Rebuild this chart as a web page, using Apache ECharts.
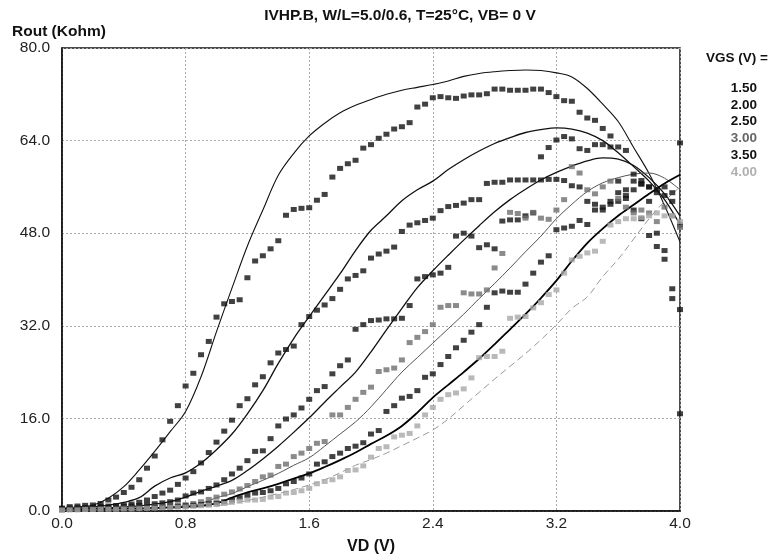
<!DOCTYPE html>
<html>
<head>
<meta charset="utf-8">
<title>IVHP.B Rout vs VD</title>
<script src="https://cdn.jsdelivr.net/npm/echarts@6/dist/echarts.min.js"></script>
<style>
  html, body { margin: 0; padding: 0; background: #fff; }
  #chart { width: 770px; height: 556px; }
</style>
</head>
<body>
<div id="chart"></div>
<script>
// gate voltages (legend)
var vgs = ['1.50', '2.00', '2.50', '3.00', '3.50', '4.00'];

// x grid of the model curves (V)
var vdModel = [0.0, 0.1, 0.2, 0.3, 0.4, 0.5, 0.6, 0.7, 0.8, 0.9,
  1.0, 1.1, 1.2, 1.3, 1.4, 1.5, 1.6, 1.7, 1.8, 1.9,
  2.0, 2.1, 2.2, 2.3, 2.4, 2.5, 2.6, 2.7, 2.8, 2.9,
  3.0, 3.1, 3.2, 3.3, 3.4, 3.5, 3.6, 3.7, 3.8, 3.9, 4.0];

// model Rout (Kohm)
var model15 = [0.5, 0.7, 1.0, 2.2, 4.2, 7.1, 10.3, 13.7, 17.2, 23.2,
  31.0, 38.5, 45.8, 52.0, 58.0, 61.8, 64.8, 67.0, 68.8, 70.1,
  71.1, 72.0, 72.7, 73.2, 73.7, 74.3, 75.1, 75.6, 75.9, 76.1,
  76.2, 76.1, 75.7, 75.0, 73.0, 70.3, 67.3, 62.8, 58.3, 52.8, 46.5];
var model20 = [0.4, 0.5, 0.7, 1.0, 1.5, 2.3, 4.3, 5.7, 6.6, 8.3,
  10.6, 13.3, 16.8, 20.8, 25.5, 29.8, 33.6, 37.3, 41.0, 45.0,
  48.5, 51.0, 53.6, 55.5, 57.0, 59.0, 60.7, 62.2, 63.5, 64.5,
  65.4, 65.9, 66.2, 66.0, 65.3, 64.0, 61.9, 59.5, 57.0, 53.8, 49.5];
var model25 = [0.3, 0.35, 0.45, 0.55, 0.7, 0.9, 1.2, 1.6, 2.4, 3.4,
  4.3, 5.3, 7.0, 9.0, 11.2, 13.6, 16.1, 18.8, 21.4, 24.0,
  27.5, 31.3, 35.0, 38.6, 41.5, 44.2, 46.8, 49.3, 51.7, 53.8,
  55.6, 57.2, 58.5, 59.6, 60.5, 61.0, 60.8, 59.7, 57.6, 54.8, 51.0];
var model30 = [0.25, 0.3, 0.35, 0.4, 0.45, 0.5, 0.6, 0.7, 0.9, 1.3,
  2.3, 3.0, 4.2, 5.3, 6.5, 7.9, 9.2, 11.2, 13.3, 15.4,
  18.0, 21.0, 24.0, 26.5, 29.0, 31.5, 34.0, 36.7, 39.3, 42.0,
  44.8, 47.5, 50.5, 53.0, 55.2, 56.7, 57.6, 58.2, 58.4, 57.5, 55.5];
var model35 = [0.2, 0.25, 0.3, 0.35, 0.4, 0.4, 0.5, 0.6, 0.7, 0.9,
  1.3, 2.3, 3.2, 3.9, 4.7, 5.6, 6.5, 7.6, 8.8, 10.1,
  11.6, 13.0, 14.7, 17.0, 19.6, 21.8, 24.0, 26.3, 28.8, 31.4,
  34.0, 36.8, 39.8, 43.2, 46.3, 48.8, 51.0, 52.9, 54.8, 56.6, 58.1];
var model40 = [0.15, 0.15, 0.2, 0.2, 0.25, 0.3, 0.35, 0.45, 0.55, 0.7,
  0.9, 1.3, 1.8, 2.4, 3.0, 3.7, 4.5, 5.4, 6.6, 7.9,
  8.9, 10.0, 11.3, 12.6, 14.0, 15.9, 18.2, 20.5, 22.8, 25.0,
  27.2, 29.6, 32.2, 35.0, 37.0, 40.5, 43.5, 47.0, 50.5, 53.5, 56.0];

// x grid of the measured points (V)
var vdMeas = [0.00, 0.05, 0.10, 0.15, 0.20, 0.25, 0.30, 0.35, 0.40, 0.45,
  0.50, 0.55, 0.60, 0.65, 0.70, 0.75, 0.80, 0.85, 0.90, 0.95,
  1.00, 1.05, 1.10, 1.15, 1.20, 1.25, 1.30, 1.35, 1.40, 1.45,
  1.50, 1.55, 1.60, 1.65, 1.70, 1.75, 1.80, 1.85, 1.90, 1.95,
  2.00, 2.05, 2.10, 2.15, 2.20, 2.25, 2.30, 2.35, 2.40, 2.45,
  2.50, 2.55, 2.60, 2.65, 2.70, 2.75, 2.80, 2.85, 2.90, 2.95,
  3.00, 3.05, 3.10, 3.15, 3.20, 3.25, 3.30, 3.35, 3.40, 3.45,
  3.50, 3.55, 3.60, 3.65, 3.70, 3.75, 3.80, 3.85, 3.90, 3.95, 4.00];

// measured Rout (Kohm)
var meas15 = [0.5, 0.75, 0.86, 0.98, 1.04, 1.3, 1.9, 2.4, 3.2, 4.1,
  5.4, 7.4, 9.5, 12.3, 15.5, 18.2, 21.6, 23.8, 27.0, 29.3,
  33.5, 35.8, 36.2, 36.5, 40.3, 43.2, 44.1, 45.3, 46.7, 51.1,
  52.1, 52.3, 52.4, 53.7, 54.7, 57.7, 59.2, 60.0, 60.6, 62.7,
  63.3, 64.4, 65.1, 66.0, 66.4, 67.1, 69.8, 70.3, 71.4, 71.6,
  71.4, 71.3, 71.7, 71.9, 71.9, 72.1, 72.9, 72.9, 72.7, 72.7,
  72.7, 72.9, 72.9, 72.3, 71.6, 70.9, 70.8, 68.9, 67.9, 67.5,
  66.1, 64.8, 62.9, 62.3, 58.2, 57.1, 53.5, 48.0, 45.0, 38.4, 16.8];
var meas20 = [0.4, 0.5, 0.55, 0.6, 0.65, 0.75, 0.85, 0.95, 1.05, 1.2,
  1.5, 1.9, 2.5, 3.1, 3.6, 4.6, 5.7, 6.8, 8.3, 10.1,
  11.9, 13.8, 15.7, 18.2, 19.4, 21.8, 23.2, 25.6, 27.3, 27.9,
  28.5, 32.2, 33.6, 34.7, 35.6, 36.7, 38.3, 40.1, 40.7, 41.5,
  43.7, 44.4, 44.9, 45.6, 48.3, 49.4, 49.8, 50.2, 50.6, 51.9,
  52.6, 52.8, 53.2, 53.8, 53.8, 56.6, 56.8, 56.8, 57.2, 57.2,
  57.2, 57.2, 61.2, 62.8, 64.1, 64.7, 64.3, 62.6, 62.3, 63.3,
  63.3, 62.9, 57.0, 55.5, 52.0, 50.5, 47.6, 45.7, 43.5, 36.7, 34.8];
var meas25 = [0.3, 0.35, 0.4, 0.45, 0.5, 0.55, 0.6, 0.7, 0.75, 0.85,
  0.95, 1.1, 1.25, 1.4, 1.6, 1.9, 2.6, 3.1, 3.3, 3.9,
  4.5, 5.4, 6.4, 7.4, 8.7, 10.3, 10.4, 12.5, 14.7, 15.9,
  16.6, 17.8, 19.3, 20.8, 21.5, 23.7, 25.1, 26.1, 31.4, 32.2,
  32.9, 33.0, 33.2, 33.2, 33.3, 35.5, 40.1, 40.5, 40.8, 41.1,
  42.1, 47.5, 48.0, 47.5, 45.5, 46.0, 45.3, 50.1, 50.3, 50.3,
  51.0, 51.5, 57.2, 57.3, 57.3, 57.1, 56.2, 56.0, 53.5, 53.0,
  52.0, 53.0, 53.5, 54.0, 55.5, 56.5, 56.0, 55.0, 54.5, 53.5, 49.4];
var meas30 = [0.25, 0.3, 0.3, 0.35, 0.35, 0.4, 0.4, 0.45, 0.5, 0.5,
  0.55, 0.6, 0.7, 0.75, 0.85, 0.95, 1.1, 1.3, 1.6, 2.0,
  2.4, 2.9, 3.3, 3.8, 4.4, 5.1, 5.9, 6.2, 7.7, 8.1,
  9.4, 10.0, 10.8, 11.7, 12.0, 16.6, 16.6, 17.9, 19.3, 20.5,
  21.4, 24.1, 24.4, 24.7, 26.1, 29.1, 30.0, 31.0, 32.2, 35.2,
  35.5, 35.5, 37.7, 37.5, 37.5, 38.2, 42.0, 44.5, 51.6, 51.4,
  50.6, 51.6, 50.6, 50.4, 52.0, 53.8, 59.5, 58.4, 55.5, 54.8,
  56.0, 57.0, 54.0, 52.5, 51.5, 52.0, 51.5, 50.0, 52.5, 51.0, 49.0];
var meas35 = [0.2, 0.25, 0.25, 0.3, 0.3, 0.35, 0.35, 0.4, 0.4, 0.45,
  0.5, 0.55, 0.6, 0.65, 0.7, 0.8, 0.9, 1.0, 1.1, 1.25,
  1.4, 1.6, 1.9, 2.3, 2.7, 3.1, 3.2, 3.5, 3.9, 4.7,
  5.1, 5.7, 6.4, 8.1, 8.5, 9.4, 10.0, 10.8, 11.2, 11.8,
  13.3, 13.9, 17.2, 18.2, 19.5, 19.8, 20.8, 23.1, 23.7, 25.3,
  26.7, 28.2, 29.5, 30.9, 32.2, 35.2, 37.7, 38.0, 37.8, 37.8,
  39.2, 41.1, 43.0, 44.1, 48.6, 48.9, 49.2, 50.2, 49.5, 52.0,
  52.5, 53.5, 55.0, 54.5, 57.0, 56.5, 56.0, 55.5, 56.0, 55.0, 63.6];
var meas40 = [0.15, 0.2, 0.2, 0.25, 0.25, 0.3, 0.3, 0.3, 0.35, 0.35,
  0.4, 0.45, 0.5, 0.55, 0.6, 0.65, 0.7, 0.8, 0.9, 1.0,
  1.1, 1.3, 1.5, 1.7, 1.9, 1.9, 2.0, 2.4, 2.5, 3.1,
  3.2, 3.5, 3.9, 4.7, 5.1, 5.4, 5.9, 7.0, 7.1, 7.8,
  9.3, 10.8, 11.1, 12.8, 13.1, 13.4, 14.7, 16.6, 17.9, 19.3,
  20.1, 20.4, 21.1, 23.0, 26.5, 26.7, 26.7, 27.6, 33.3, 33.5,
  33.6, 35.1, 36.0, 37.4, 38.2, 41.1, 43.4, 44.0, 44.6, 44.9,
  46.6, 49.4, 50.0, 50.5, 50.5, 50.7, 51.0, 51.5, 51.0, 51.0, 50.0];

var xTicks = ['0.0', '0.8', '1.6', '2.4', '3.2', '4.0'];
var yTicks = ['0.0', '16.0', '32.0', '48.0', '64.0', '80.0'];

var models = [model15, model20, model25, model30, model35, model40];
var measured = [meas15, meas20, meas25, meas30, meas35, meas40];

var FONT = '"Liberation Sans", Arial, Helvetica, sans-serif';
var lineStyles = [
  { color: '#111', width: 1.1, type: 'solid' },
  { color: '#111', width: 1.3, type: 'solid' },
  { color: '#111', width: 1.3, type: 'solid' },
  { color: '#555', width: 1.0, type: 'solid' },
  { color: '#000', width: 1.8, type: 'solid' },
  { color: '#9a9a9a', width: 1.0, type: [7, 4] }
];
var markColors = ['#111', '#111', '#111', '#6e6e6e', '#111', '#a8a8a8'];
var legendColors = ['#111', '#111', '#111', '#666', '#111', '#b0b0b0'];

function pairs(xs, ys) {
  return ys.map(function (y, i) { return [xs[i], y]; });
}

var series = [];
vgs.forEach(function (name, i) {
  series.push({
    name: name,
    type: 'line',
    data: pairs(vdModel, models[i]),
    showSymbol: false,
    smooth: 0.35,
    lineStyle: lineStyles[i],
    itemStyle: { color: lineStyles[i].color },
    z: 2
  });
  series.push({
    name: name,
    type: 'scatter',
    data: pairs(vdMeas, measured[i]),
    symbol: 'rect',
    symbolSize: [6, 5],
    itemStyle: { color: markColors[i] },
    z: 3
  });
});

var chart = echarts.init(document.getElementById('chart'));
chart.setOption({
  backgroundColor: '#fff',
  animation: false,
  textStyle: { fontFamily: FONT },
  title: {
    text: 'IVHP.B, W/L=5.0/0.6, T=25°C, VB= 0 V',
    left: 395,
    top: 3,
    textAlign: 'center',
    textStyle: { fontSize: 15.5, fontWeight: 'bold', color: '#111', fontFamily: FONT }
  },
  legend: {
    data: vgs.map(function (v, i) {
      return { name: v, icon: 'none', textStyle: { color: legendColors[i] } };
    }),
    orient: 'vertical',
    right: 3,
    top: 76,
    itemWidth: 0,
    itemHeight: 10,
    itemGap: 2.8,
    align: 'right',
    textStyle: { fontSize: 13.5, fontWeight: 'bold', fontFamily: FONT, padding: 0 }
  },
  graphic: [{
    type: 'text',
    right: 2,
    top: 51,
    style: { text: 'VGS (V) =', fill: '#111', font: 'bold 13.5px ' + FONT }
  }],
  grid: {
    left: 62, right: 90, top: 48, bottom: 45,
    outerBoundsMode: 'none',
    show: true, borderColor: '#111', borderWidth: 1.5, backgroundColor: '#fff'
  },
  xAxis: {
    type: 'value',
    min: 0, max: 4, interval: 0.8,
    name: 'VD (V)',
    nameLocation: 'middle',
    nameGap: 28,
    nameTextStyle: { fontSize: 16, fontWeight: 'bold', color: '#111', fontFamily: FONT },
    axisLine: { show: true, lineStyle: { color: '#111', width: 1.5 } },
    axisTick: { show: false },
    axisLabel: {
      fontSize: 15.5, color: '#222', margin: 5, fontFamily: FONT,
      formatter: function (v) { return xTicks[Math.round(v / 0.8)]; }
    },
    splitLine: { show: true, lineStyle: { color: '#aaa', type: [2, 2], width: 1 } }
  },
  yAxis: {
    type: 'value',
    min: 0, max: 80, interval: 16,
    name: 'Rout (Kohm)',
    nameLocation: 'end',
    nameGap: 8,
    nameTextStyle: { fontSize: 15.5, fontWeight: 'bold', color: '#111', fontFamily: FONT, align: 'left', padding: [0, 0, 0, -50] },
    axisLine: { show: true, lineStyle: { color: '#111', width: 1.5 } },
    axisTick: { show: false },
    axisLabel: {
      fontSize: 15.5, color: '#222', margin: 12, fontFamily: FONT,
      formatter: function (v) { return yTicks[Math.round(v / 16)]; }
    },
    splitLine: { show: true, lineStyle: { color: '#aaa', type: [2, 2], width: 1 } }
  },
  series: series
});
</script>
</body>
</html>
